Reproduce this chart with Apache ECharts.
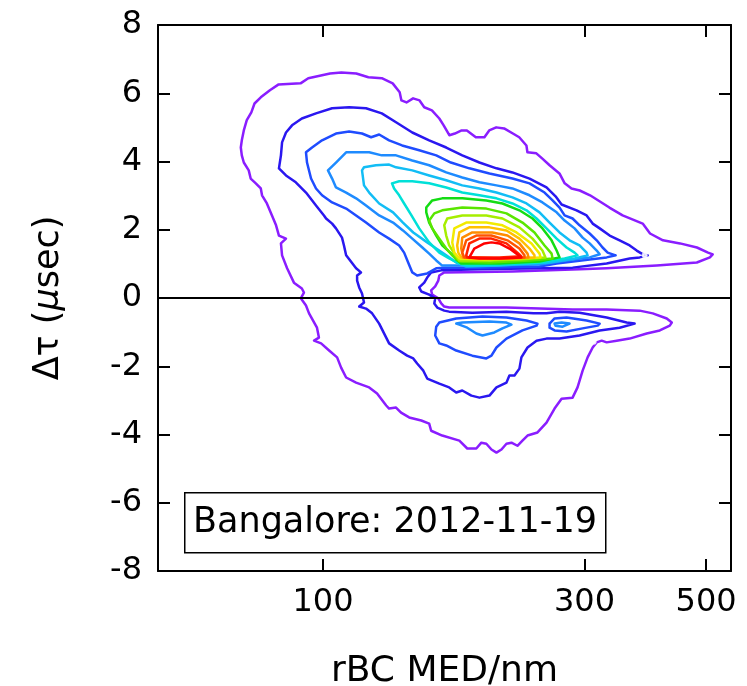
<!DOCTYPE html>
<html>
<head>
<meta charset="utf-8">
<script src="https://cdn.jsdelivr.net/npm/echarts@6/dist/echarts.min.js"></script>
<style>html,body{margin:0;padding:0;background:#fff}#c{width:747px;height:686px}</style>
</head>
<body>
<div id="c"></div>
<script>
// ---- Data: contour paths as [rBC MED (nm), delta tau (usec)] ----
const xTickValues = [100, 300, 500];
const yTickValues = [-8, -6, -4, -2, 0, 2, 4, 6, 8];
const xRange = [50, 555];
const yRange = [-8, 8];

const c01 = [[514,1.28],[504,1.33],[481,1.48],[448,1.60],[417,1.69],[395,1.89],[383,2.18],[352,2.42],[333,2.65],[307,3.01],[294,3.15],[284,3.21],[276,3.36],[270,3.65],[259,3.89],[251,4.09],[245,4.24],[236,4.27],[235,4.47],[228,4.71],[222,4.82],[214,4.97],[207,5.00],[201,4.91],[197,4.71],[190,4.71],[183,4.91],[179,4.91],[174,4.82],[170,4.77],[166,5.06],[163,5.26],[158,5.50],[153,5.59],[150,5.79],[146,5.85],[142,5.73],[139,5.79],[138,6.03],[134,6.29],[128,6.44],[121,6.47],[115,6.58],[108,6.61],[103,6.58],[94,6.44],[91,6.29],[83,6.26],[80,6.09],[77,5.88],[75,5.70],[74,5.44],[72.6,5.21],[71.7,4.91],[71.1,4.62],[70.8,4.41],[71.1,4.18],[71.7,3.97],[73.2,3.74],[73.8,3.50],[75.4,3.36],[77.0,3.21],[77.4,3.01],[79.0,2.77],[80.7,2.42],[82.1,2.13],[83.1,1.83],[85.6,1.74],[83.8,1.60],[84.2,1.25],[86.0,0.87],[88.5,0.45],[91.5,0.28],[92.3,0.16],[91.1,-0.01],[93.1,-0.22],[94.3,-0.45],[97.5,-0.87],[98.3,-1.16],[96.3,-1.25],[99.2,-1.33],[102.6,-1.54],[106.1,-1.74],[107.9,-2.04],[110.2,-2.33],[114.9,-2.48],[121.4,-2.62],[125.5,-2.80],[130.4,-3.15],[132.0,-3.24],[135.9,-3.21],[138.8,-3.36],[143.6,-3.50],[151.1,-3.59],[156.2,-3.68],[157.5,-3.89],[165.0,-4.03],[177.3,-4.18],[183.3,-4.41],[190.4,-4.41],[194.5,-4.24],[198.6,-4.27],[202.9,-4.44],[207.2,-4.53],[211.6,-4.44],[216.1,-4.27],[220.7,-4.24],[226.3,-4.33],[231.1,-4.18],[236.1,-4.03],[246.2,-3.94],[255.7,-3.65],[264.5,-3.24],[272.4,-2.95],[285.3,-2.92],[291.3,-2.62],[297.6,-2.13],[303.9,-1.74],[310.4,-1.45],[315.7,-1.30],[322.4,-1.25],[329.2,-1.30],[343.3,-1.25],[362.6,-1.19],[389.5,-1.04],[411.5,-0.95],[429.1,-0.81],[432.8,-0.72],[423.7,-0.60],[399.5,-0.45],[378.2,-0.37],[329.2,-0.34],[285.3,-0.34],[248.3,-0.31],[216.1,-0.28],[187.2,-0.28],[169.9,-0.28],[166.4,-0.25],[164.3,-0.16],[162.3,-0.01],[158.2,0.10],[157.5,0.22],[160.2,0.34],[162.3,0.51],[163.0,0.66],[166.4,0.75],[221.6,0.78],[293.8,0.84],[329.2,0.87],[406.3,0.95],[480.8,1.04],[507.9,1.19]];

const c02 = [[83.1,3.80],[83.8,4.18],[84.2,4.56],[85.6,4.85],[87.8,5.06],[91.5,5.26],[97.1,5.41],[103.9,5.56],[111.6,5.59],[119.8,5.56],[128.0,5.41],[135.9,5.15],[145.5,4.85],[156.2,4.62],[167.8,4.41],[179.5,4.18],[192.9,3.97],[207.2,3.80],[221.6,3.68],[238.1,3.50],[255.7,3.24],[265.6,2.98],[272.4,2.74],[290.1,2.57],[302.6,2.42],[310.4,2.18],[319.7,2.04],[333.4,1.83],[347.6,1.69],[362.6,1.54],[373.5,1.39],[381.4,1.30],[391.2,1.25],[378.2,1.19],[362.6,1.16],[329.2,1.01],[285.3,0.89],[248.3,0.87],[192.9,0.84],[164.3,0.81],[157.5,0.75],[154.9,0.60],[153.0,0.45],[149.8,0.31],[151.1,0.19],[156.2,0.10],[160.2,-0.01],[159.6,-0.16],[161.6,-0.28],[166.4,-0.37],[169.9,-0.40],[187.2,-0.43],[216.1,-0.40],[242.1,-0.45],[255.7,-0.45],[270.1,-0.40],[293.8,-0.43],[329.2,-0.57],[358.1,-0.72],[370.3,-0.75],[347.6,-0.87],[319.7,-0.95],[293.8,-1.10],[270.1,-1.19],[255.7,-1.19],[245.2,-1.25],[236.1,-1.45],[230.1,-1.74],[228.2,-2.07],[223.5,-2.27],[218.8,-2.27],[216.1,-2.48],[207.2,-2.62],[201.2,-2.86],[192.9,-2.92],[186.5,-2.86],[179.5,-2.71],[175.0,-2.77],[169.9,-2.62],[163.0,-2.51],[154.9,-2.36],[152.4,-2.13],[148.5,-1.92],[146.1,-1.77],[142.4,-1.69],[137.7,-1.54],[132.0,-1.33],[130.4,-1.16],[126.6,-0.75],[122.9,-0.45],[119.8,-0.31],[116.4,-0.25],[118.8,-0.13],[117.8,0.13],[116.4,0.31],[115.4,0.51],[115.4,0.66],[117.3,0.75],[114.9,0.87],[110.2,1.25],[109.2,1.54],[108.3,1.77],[105.6,2.04],[103.9,2.18],[101.3,2.33],[100.4,2.42],[97.1,2.71],[93.1,3.09],[89.2,3.39],[85.6,3.59]];

const c03 = [[93.1,4.27],[95.5,4.41],[99.6,4.62],[105.6,4.82],[111.6,4.88],[117.8,4.82],[122.4,4.71],[126.6,4.79],[132.0,4.62],[139.4,4.47],[149.8,4.33],[160.9,4.18],[171.1,3.97],[184.9,3.80],[201.2,3.65],[221.6,3.50],[238.1,3.36],[253.6,3.09],[262.3,2.86],[270.1,2.65],[275.9,2.42],[285.3,2.33],[293.8,2.13],[306.5,1.89],[315.7,1.69],[323.6,1.48],[330.6,1.33],[337.6,1.28],[341.9,1.25],[329.2,1.19],[306.5,1.13],[266.8,1.01],[248.3,0.92],[192.9,0.89],[166.4,0.89],[160.9,0.87],[154.9,0.72],[148.5,0.66],[145.5,0.75],[143.0,1.04],[140.6,1.33],[137.7,1.54],[132.0,1.74],[126.6,1.92],[119.8,2.21],[114.9,2.42],[110.2,2.62],[103.9,2.80],[99.6,3.01],[97.1,3.21],[95.1,3.50],[93.5,3.97]];
const c03LowLeft = [[163.0,-0.72],[175.0,-0.60],[195.4,-0.54],[216.1,-0.57],[235.1,-0.66],[246.2,-0.75],[245.2,-0.81],[231.1,-0.95],[216.1,-1.19],[207.2,-1.45],[202.9,-1.69],[198.6,-1.77],[187.2,-1.69],[175.0,-1.54],[167.8,-1.39],[163.0,-1.33],[160.2,-1.10],[160.9,-0.84]];
const c03LowRight = [[259.0,-0.75],[264.5,-0.60],[278.2,-0.57],[302.6,-0.66],[319.7,-0.75],[317.0,-0.81],[297.6,-0.89],[278.2,-0.98],[264.5,-0.95],[259.0,-0.87]];

const c04 = [[102.1,3.74],[105.6,3.97],[110.2,4.27],[114.9,4.27],[121.4,4.27],[128.0,4.18],[135.9,4.18],[145.5,4.03],[156.2,3.89],[167.8,3.68],[179.5,3.53],[192.9,3.39],[207.2,3.30],[221.6,3.21],[238.1,3.01],[251.4,2.80],[266.8,2.51],[275.9,2.27],[287.7,2.04],[297.6,1.77],[306.5,1.60],[315.7,1.39],[319.7,1.28],[306.5,1.19],[285.3,1.13],[248.3,0.98],[192.9,0.95],[165.0,0.95],[160.9,1.10],[156.2,1.30],[151.8,1.48],[145.5,1.74],[139.9,1.98],[134.2,2.21],[126.6,2.42],[119.8,2.71],[114.9,2.92],[110.2,3.09],[105.6,3.24],[103.9,3.50]];
const c04LowLeft = [[175.0,-0.75],[179.5,-0.72],[201.2,-0.69],[216.1,-0.72],[220.7,-0.78],[212.5,-0.89],[205.4,-1.01],[195.4,-1.10],[190.4,-1.04],[183.3,-0.87],[177.3,-0.78]];
const c04LowRight = [[264.5,-0.75],[272.4,-0.72],[281.7,-0.75],[282.9,-0.78],[273.6,-0.84],[265.6,-0.81]];

const c05 = [[117.8,3.74],[118.8,3.83],[124.9,3.89],[132.0,3.91],[135.9,3.83],[145.5,3.74],[156.2,3.59],[167.8,3.45],[179.5,3.30],[192.9,3.21],[207.2,3.09],[221.6,2.95],[235.1,2.77],[248.3,2.51],[259.0,2.21],[270.1,1.92],[281.7,1.69],[293.8,1.54],[302.6,1.33],[303.9,1.25],[287.7,1.16],[259.0,1.04],[209.8,0.95],[182.5,0.92],[175.0,1.04],[167.8,1.25],[160.9,1.45],[154.9,1.63],[146.1,1.92],[139.9,2.21],[134.2,2.51],[126.6,2.77],[121.4,3.09],[118.8,3.30]];

const c06 = [[133.6,3.36],[137.7,3.42],[145.5,3.42],[156.2,3.36],[167.8,3.24],[179.5,3.09],[192.9,3.01],[207.2,2.92],[221.6,2.77],[235.1,2.57],[245.2,2.33],[255.7,2.04],[266.8,1.74],[278.2,1.48],[287.7,1.33],[291.3,1.25],[275.9,1.16],[248.3,1.04],[209.8,0.98],[184.9,0.95],[177.3,1.01],[169.9,1.16],[163.0,1.33],[156.2,1.63],[149.8,2.04],[145.0,2.42],[140.6,2.77],[137.7,3.01],[134.8,3.21]];

const c07 = [[154.3,2.65],[158.2,2.86],[165.0,2.92],[179.5,2.92],[198.6,2.86],[212.5,2.77],[228.2,2.57],[241.1,2.33],[251.4,2.04],[261.2,1.69],[266.8,1.39],[270.1,1.19],[248.3,1.07],[209.8,1.01],[178.7,1.01],[175.0,1.13],[171.4,1.30],[165.0,1.54],[160.9,1.83],[156.2,2.21],[154.3,2.51]];
const c08 = [[156.2,2.27],[159.6,2.48],[165.0,2.57],[179.5,2.65],[198.6,2.62],[216.1,2.48],[231.1,2.21],[243.1,1.92],[253.6,1.54],[261.2,1.30],[262.3,1.16],[238.1,1.10],[201.2,1.04],[177.3,1.07],[172.1,1.25],[167.8,1.45],[163.0,1.74],[158.2,2.04]];
const c09 = [[166.4,2.13],[168.5,2.33],[179.5,2.42],[198.6,2.42],[212.5,2.33],[228.2,2.07],[241.1,1.74],[251.4,1.39],[254.6,1.19],[228.2,1.13],[197.0,1.10],[177.3,1.10],[173.6,1.30],[169.9,1.54],[167.8,1.83]];
const c10 = [[172.1,1.63],[173.6,2.04],[182.5,2.21],[198.6,2.21],[212.5,2.13],[225.4,1.92],[240.1,1.60],[248.3,1.30],[249.4,1.19],[223.5,1.16],[197.0,1.13],[177.3,1.16],[173.6,1.33]];
const c11 = [[175.7,1.54],[177.3,1.92],[184.9,2.07],[201.2,2.07],[216.1,1.98],[228.2,1.74],[238.1,1.45],[243.1,1.25],[243.1,1.19],[218.8,1.16],[197.0,1.16],[178.7,1.19],[176.5,1.33]];
const c12 = [[178.7,1.45],[179.5,1.77],[187.2,1.92],[203.7,1.92],[217.0,1.83],[228.2,1.60],[236.1,1.30],[237.1,1.19],[214.3,1.16],[192.9,1.16],[180.2,1.19]];
const c13 = [[179.5,1.33],[182.5,1.69],[190.4,1.83],[202.9,1.83],[217.0,1.69],[228.2,1.45],[233.1,1.25],[233.1,1.19],[209.8,1.16],[191.2,1.19],[181.0,1.19]];
const c14 = [[182.5,1.25],[184.9,1.60],[192.9,1.74],[202.9,1.74],[216.1,1.60],[226.3,1.33],[230.1,1.22],[209.8,1.19],[191.2,1.19],[183.3,1.19]];
const c15 = [[184.9,1.19],[188.8,1.45],[197.0,1.60],[202.9,1.63],[209.8,1.60],[218.8,1.45],[225.4,1.30],[230.1,1.19],[209.8,1.16],[192.9,1.16]];

// small isolated islands of the lowest two levels
const islandsPurple = [[116.4,6.76],[116.9,6.29],[166.4,5.76],[206.3,5.76],[156.9,5.26],[181.8,5.23],[195.4,5.26],[241.1,4.74],[87.4,0.25],[116.9,-3.27],[135.9,-3.77],[146.1,-3.27],[156.2,-3.27],[146.7,-4.27],[171.1,-4.77],[311.7,-1.28],[272.4,-2.24],[271.2,-2.77],[236.1,-3.77],[206.3,-4.30],[211.6,-4.77],[525.3,1.25],[540.0,1.25]];
const islandsBlue = [[145.5,1.25],[153.0,-0.28],[386.2,1.25]];

// ---- styling (not data) ----
const levelColors = ['#8a1dff','#2a17f0','#1f4cff','#1e8bff','#12bdf5','#00e0d8','#14dc14','#5ae600','#a6ee00','#f2ea00','#ffc000','#ff8c00','#ff5500','#ff2200','#ff0000'];
const contours = [
  [c01,0],[c02,1],[c03,2],[c03LowLeft,2],[c03LowRight,2],[c04,3],[c04LowLeft,3],[c04LowRight,3],
  [c05,4],[c06,5],[c07,6],[c08,7],[c09,8],[c10,9],[c11,10],[c12,11],[c13,12],[c14,13],[c15,14]
];
const FONT = 'DejaVu Sans';
const lg = v => Math.log10(v);
const xTicksLog = xTickValues.map(lg);

const series = contours.map(([pts, lvl]) => ({
  type: 'line',
  data: pts.concat([pts[0]]).map(p => [lg(p[0]), p[1]]),
  showSymbol: false,
  symbol: 'none',
  smooth: false,
  silent: true,
  z: 3 + lvl,
  lineStyle: { color: levelColors[lvl], width: 2.5, join: 'round', cap: 'round' }
}));
series.push({
  type: 'scatter', silent: true, z: 3,
  data: islandsPurple.map(p => [lg(p[0]), p[1]]),
  symbol: 'emptyCircle', symbolSize: 4,
  itemStyle: { color: '#fff', borderColor: levelColors[0], borderWidth: 1.8 }
});
series.push({
  type: 'scatter', silent: true, z: 4,
  data: islandsBlue.map(p => [lg(p[0]), p[1]]),
  symbol: 'emptyCircle', symbolSize: 4,
  itemStyle: { color: '#fff', borderColor: levelColors[1], borderWidth: 1.8 }
});
series[0].markLine = {
  silent: true, symbol: 'none', animation: false,
  label: { show: false },
  lineStyle: { color: '#000', width: 2, type: 'solid' },
  data: [{ yAxis: 0 }]
};

const axisLineStyle = { onZero: false, lineStyle: { color: '#000', width: 2 } };
const tickStyle = { inside: true, length: 12, lineStyle: { color: '#000', width: 2 } };

const option = {
  animation: false,
  backgroundColor: '#fff',
  grid: { left: 158, right: 16, top: 25, bottom: 115, containLabel: false, outerBoundsMode: 'none' },
  xAxis: [
    {
      type: 'value', position: 'bottom', min: lg(xRange[0]), max: lg(xRange[1]),
      axisLine: axisLineStyle,
      axisTick: Object.assign({ customValues: xTicksLog }, tickStyle),
      axisLabel: { customValues: xTicksLog, formatter: v => String(Math.round(Math.pow(10, v))), fontSize: 32, color: '#000', fontFamily: FONT, margin: 16 },
      splitLine: { show: false },
      name: 'rBC MED/nm', nameLocation: 'middle', nameGap: 83,
      nameTextStyle: { fontSize: 36, color: '#000', fontFamily: FONT }
    },
    {
      type: 'value', position: 'top', min: lg(xRange[0]), max: lg(xRange[1]),
      axisLine: axisLineStyle,
      axisTick: Object.assign({ customValues: xTicksLog }, tickStyle),
      axisLabel: { show: false }, splitLine: { show: false }
    }
  ],
  yAxis: [
    {
      type: 'value', position: 'left', min: yRange[0], max: yRange[1], interval: 2,
      axisLine: axisLineStyle, axisTick: tickStyle,
      axisLabel: { fontSize: 32, color: '#000', fontFamily: FONT, margin: 16, customValues: yTickValues },
      splitLine: { show: false },
      name: 'Δτ ({i|μ}sec)', nameLocation: 'middle', nameGap: 92,
      nameTextStyle: { fontSize: 35, color: '#000', fontFamily: FONT,
        rich: { i: { fontSize: 35, fontStyle: 'italic', color: '#000', fontFamily: FONT } } }
    },
    {
      type: 'value', position: 'right', min: yRange[0], max: yRange[1], interval: 2,
      axisLine: axisLineStyle, axisTick: tickStyle,
      axisLabel: { show: false }, splitLine: { show: false }
    }
  ],
  graphic: [
    { type: 'rect', left: 184, top: 492, z: 100,
      shape: { width: 421, height: 60 },
      style: { fill: '#fff', stroke: '#000', lineWidth: 1.5 } },
    { type: 'text', x: 193, y: 523, z: 101,
      style: { text: 'Bangalore: 2012-11-19', fontSize: 35, fontFamily: FONT, fill: '#000', align: 'left', verticalAlign: 'middle' } }
  ],
  series: series
};

const chart = echarts.init(document.getElementById('c'), null, { renderer: 'canvas' });
chart.setOption(option);
</script>
</body>
</html>
